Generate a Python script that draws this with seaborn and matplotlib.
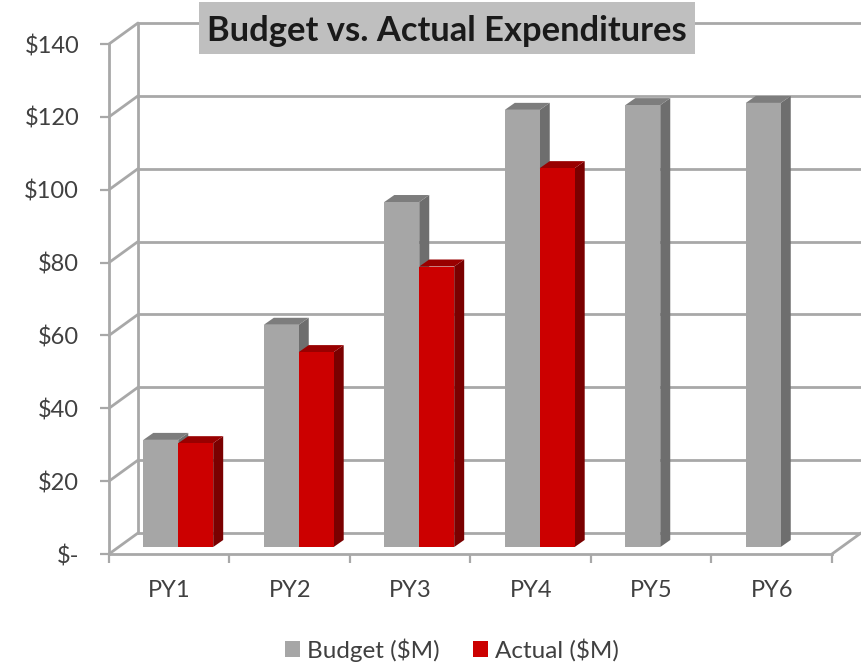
import numpy as np
import pandas as pd
import matplotlib
matplotlib.use("Agg")
import matplotlib.pyplot as plt
from matplotlib.patches import Polygon, Rectangle
from matplotlib.transforms import Affine2D, IdentityTransform
import seaborn as sns

# chart data
years = ["PY1", "PY2", "PY3", "PY4", "PY5", "PY6"]
budget = [29.4, 61, 94.7, 120, 121.3, 121.9]
actual = [28.5, 53.5, 77, 104, np.nan, np.nan]
y_ticks = [0, 20, 40, 60, 80, 100, 120, 140]
y_labels = ["$-", "$20", "$40", "$60", "$80", "$100", "$120", "$140"]

colors = {"Budget ($M)": "#a6a6a6", "Actual ($M)": "#cc0000"}
side_colors = {"Budget ($M)": "#6e6e6e", "Actual ($M)": "#7a0000"}
top_colors = {"Budget ($M)": "#7d7d7d", "Actual ($M)": "#990000"}
line_color = "#a8a8a8"
text_color = "#404040"

df = pd.DataFrame({"year": years, "Budget ($M)": budget, "Actual ($M)": actual})
df = df.melt(id_vars="year", var_name="series", value_name="value")

sns.set_theme(style="white")
plt.rcParams["font.family"] = ["Lato", "DejaVu Sans"]

W, H = 862, 664
fig = plt.figure(figsize=(W / 100, H / 100), dpi=100)
# front of the plot box in pixels: x 109-832, y 44-554
ax = fig.add_axes([109 / W, 1 - 554 / H, (832 - 109) / W, (554 - 44) / H])

sns.barplot(data=df, x="year", y="value", hue="series", palette=colors,
            width=0.58, gap=0, saturation=1, legend=True, ax=ax, zorder=3, linewidth=0)

ax.set_xlim(-0.5, 5.5)
ax.set_ylim(0, 140)
ax.set_yticks(y_ticks, y_labels)
ax.set_xticks(np.arange(-0.5, 6.5), [""] * 7)
ax.set_xlabel("")
ax.set_ylabel("")
ax.tick_params(axis="both", length=6.5, width=1.6, color=line_color, left=True, bottom=True,
               labelsize=17, labelcolor=text_color)
ax.tick_params(axis="y", pad=15)
sns.despine(ax=ax, top=True, right=True)
for s in ["left", "bottom"]:
    ax.spines[s].set_color(line_color)
    ax.spines[s].set_linewidth(2)

for i, name in enumerate(years):
    ax.text(i, -10, name, ha="center", va="center", fontsize=17, color=text_color)

# fake 3D: back wall sits 29,21 px behind the front, bars 9,7 px in from the front edge
fig.canvas.draw()
to_px = ax.transData.transform
wall = (29, 21)
grid_kw = dict(color=line_color, lw=2, transform=IdentityTransform(), clip_on=False, zorder=1,
               solid_capstyle="round")
for v in y_ticks:
    x0, y0 = to_px((-0.5, v))
    ax.plot([x0, x0 + wall[0]], [y0, y0 + wall[1]], **grid_kw)
    ax.plot([x0 + wall[0], W], [y0 + wall[1], y0 + wall[1]], **grid_kw)
x0, y0 = to_px((-0.5, 0))
_, y1 = to_px((-0.5, 140))
ax.plot([x0 + wall[0], x0 + wall[0]], [y0 + wall[1], y1 + wall[1]], **grid_kw)
x1, _ = to_px((5.5, 0))
ax.plot([x1, x1 + wall[0]], [y0, y0 + wall[1]], **grid_kw)

inset = (9, 7)
shift = Affine2D().translate(*inset)
depth = (10, 7)
order = list(colors)
bars = [c for cont in ax.containers for c in cont]
labels = [order[j] for j, cont in enumerate(ax.containers) for _ in cont]
for bar, label in zip(bars, labels):
    if not np.isfinite(bar.get_height()) or bar.get_height() == 0:
        continue
    bar.set_transform(ax.transData + shift)
    bar.set_clip_on(False)
    (xa, ya), (xb, yb) = to_px([(bar.get_x(), 0), (bar.get_x() + bar.get_width(), bar.get_height())])
    xa += inset[0]
    xb += inset[0]
    ya += inset[1]
    yb += inset[1]
    z = 3 if label == "Budget ($M)" else 4
    bar.set_zorder(z + 0.5)
    dx, dy = depth
    ax.add_patch(Polygon([(xb, ya), (xb + dx, ya + dy), (xb + dx, yb + dy), (xb, yb)],
                         facecolor=side_colors[label], edgecolor="none",
                         transform=IdentityTransform(), clip_on=False, zorder=z))
    ax.add_patch(Polygon([(xa, yb), (xa + dx, yb + dy), (xb + dx, yb + dy), (xb, yb)],
                         facecolor=top_colors[label], edgecolor="none",
                         transform=IdentityTransform(), clip_on=False, zorder=z))

# legend along the bottom
handles, leg_labels = ax.get_legend_handles_labels()
ax.get_legend().remove()
fig.legend(handles, leg_labels, loc="center", bbox_to_anchor=(452 / W, 1 - 650 / H), ncol=2,
           frameon=False, fontsize=17.5, labelcolor=text_color, handlelength=0.62, handleheight=0.62,
           handletextpad=0.3, columnspacing=1.35, borderpad=0)

# title sits on a grey box over the top gridline
fig.add_artist(Rectangle((199 / W, 1 - 54 / H), 496 / W, 52 / H, transform=fig.transFigure,
                         facecolor="#bfbfbf", edgecolor="none", zorder=5))
fig.text(447 / W, 1 - 31 / H, "Budget vs. Actual Expenditures", ha="center", va="center",
         fontsize=24.8, fontweight="bold", color="#1a1a1a", zorder=6)

fig.savefig("out.png", dpi=100)
